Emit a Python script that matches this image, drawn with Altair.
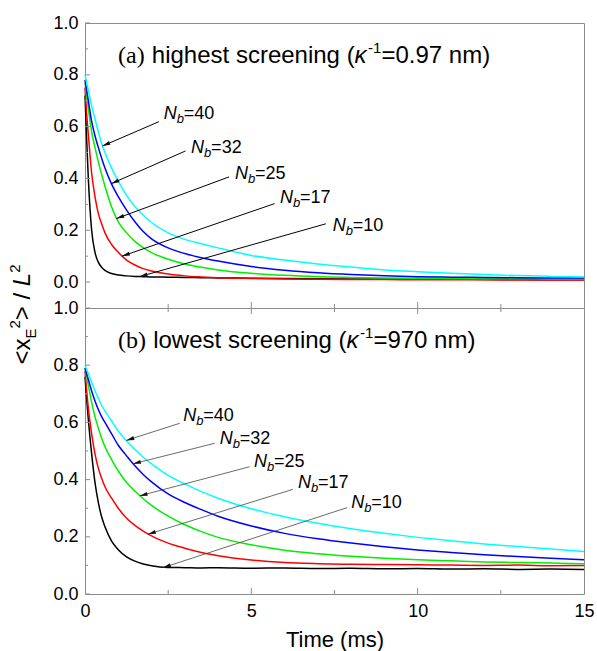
import math
import altair as alt
import pandas as pd

FRAME = "#8c8c8c"
SANS = "Liberation Sans"
SERIF = "Liberation Serif"

W = 499
H_TOP = 285
H_BOT = 286

# ---------------- data ----------------
time_ms = [0, 0.05, 0.1, 0.2, 0.3, 0.4, 0.5, 0.6, 0.8, 1.0, 1.25, 1.5, 1.75, 2.0,
           2.5, 3.0, 3.5, 4, 5, 6, 7, 8, 9, 10, 11, 12, 13, 14, 15]

nb_values = ["10", "17", "25", "32", "40"]
nb_colors = ["#000000", "#ff0000", "#00ee00", "#0000ff", "#00ffff"]

# (a) highest screening
a_nb10 = [0.72, 0.55, 0.40, 0.20, 0.115, 0.077, 0.057, 0.045, 0.033, 0.027, 0.024, 0.022, 0.021, 0.020,
          0.019, 0.018, 0.017, 0.016, 0.015, 0.014, 0.013, 0.012, 0.012, 0.011, 0.011, 0.010, 0.010, 0.009, 0.009]
a_nb17 = [0.75, 0.65, 0.57, 0.42, 0.33, 0.265, 0.225, 0.19, 0.145, 0.115, 0.085, 0.066, 0.052, 0.043,
          0.031, 0.024, 0.020, 0.017, 0.014, 0.012, 0.011, 0.010, 0.010, 0.009, 0.009, 0.009, 0.008, 0.008, 0.008]
a_nb25 = [0.77, 0.72, 0.67, 0.58, 0.52, 0.465, 0.415, 0.37, 0.29, 0.232, 0.19, 0.157, 0.133, 0.114,
          0.088, 0.070, 0.057, 0.047, 0.034, 0.026, 0.021, 0.018, 0.016, 0.015, 0.014, 0.013, 0.013, 0.012, 0.012]
a_nb32 = [0.78, 0.74, 0.70, 0.62, 0.565, 0.52, 0.478, 0.44, 0.378, 0.33, 0.278, 0.233, 0.195, 0.167,
          0.132, 0.110, 0.094, 0.081, 0.060, 0.046, 0.036, 0.029, 0.024, 0.021, 0.019, 0.018, 0.017, 0.016, 0.016]
a_nb40 = [0.80, 0.77, 0.74, 0.68, 0.63, 0.58, 0.535, 0.50, 0.44, 0.39, 0.335, 0.292, 0.258, 0.23,
          0.19, 0.165, 0.148, 0.132, 0.103, 0.085, 0.070, 0.058, 0.047, 0.040, 0.034, 0.029, 0.025, 0.022, 0.020]

# (b) lowest screening
b_nb10 = [0.76, 0.68, 0.61, 0.49, 0.39, 0.32, 0.27, 0.235, 0.185, 0.155, 0.13, 0.115, 0.105, 0.099,
          0.093, 0.092, 0.091, 0.092, 0.090, 0.091, 0.089, 0.090, 0.088, 0.089, 0.087, 0.088, 0.086, 0.087, 0.086]
b_nb17 = [0.78, 0.71, 0.65, 0.56, 0.49, 0.44, 0.405, 0.375, 0.335, 0.30, 0.265, 0.24, 0.22, 0.203,
          0.178, 0.160, 0.145, 0.134, 0.119, 0.110, 0.106, 0.104, 0.103, 0.102, 0.101, 0.100, 0.101, 0.099, 0.100]
b_nb25 = [0.79, 0.76, 0.73, 0.67, 0.62, 0.58, 0.545, 0.515, 0.47, 0.43, 0.39, 0.36, 0.333, 0.31,
          0.272, 0.242, 0.218, 0.198, 0.172, 0.153, 0.141, 0.132, 0.125, 0.120, 0.116, 0.112, 0.110, 0.108, 0.106]
b_nb32 = [0.79, 0.77, 0.75, 0.71, 0.675, 0.645, 0.62, 0.60, 0.56, 0.52, 0.483, 0.448, 0.418, 0.392,
          0.35, 0.32, 0.295, 0.272, 0.238, 0.212, 0.193, 0.178, 0.165, 0.154, 0.145, 0.137, 0.131, 0.125, 0.120]
b_nb40 = [0.80, 0.785, 0.77, 0.74, 0.71, 0.685, 0.66, 0.64, 0.605, 0.57, 0.535, 0.505, 0.478, 0.455,
          0.415, 0.385, 0.358, 0.335, 0.298, 0.27, 0.247, 0.228, 0.212, 0.198, 0.186, 0.175, 0.166, 0.157, 0.149]

# annotation arrows (tail near the label, tip on the curve) and label anchors, order Nb = 10, 17, 25, 32, 40
a_tail_t = [7.24, 5.70, 4.33, 3.02, 2.22]
a_tail_v = [0.225, 0.303, 0.406, 0.506, 0.619]
a_tip_t = [1.64, 1.11, 0.94, 0.79, 0.52]
a_tip_v = [0.021, 0.100, 0.245, 0.380, 0.525]
a_label_t = [7.45, 5.86, 4.51, 3.19, 2.37]
a_label_v = [0.217, 0.325, 0.417, 0.518, 0.649]

b_tail_t = [7.88, 6.25, 4.95, 3.90, 2.85]
b_tail_v = [0.302, 0.366, 0.445, 0.527, 0.597]
b_tip_t = [2.34, 1.89, 1.64, 1.44, 1.24]
b_tip_v = [0.092, 0.209, 0.343, 0.455, 0.537]
b_label_t = [8.00, 6.40, 5.08, 4.05, 2.95]
b_label_v = [0.317, 0.387, 0.462, 0.541, 0.622]

title_a = ["(a)", "highest screening (", "\u03ba", "-1", "=0.97 nm)"]
title_b = ["(b)", "lowest screening (", "\u03ba", "-1", "=970 nm)"]

y_tick_labels = [0.0, 0.2, 0.4, 0.6, 0.8, 1.0]
y_minor = [0.1, 0.3, 0.5, 0.7, 0.9]
x_tick_labels = [0, 5, 10, 15]
x_major_inner = [5, 10]
x_minor = [2.5, 7.5, 12.5]

# ---------------- helpers ----------------
SANS_W = {' ': 278, '(': 333, ')': 333, '-': 333, '.': 278, '/': 278, '<': 584, '=': 584,
          '>': 584, 'E': 667, 'L': 556, 'N': 722, '\u03ba': 520, 'i': 222, 'l': 222,
          'm': 833, 'r': 333, 's': 500, 'c': 500, 't': 278, 'w': 722, 'x': 500}
SERIF_W = {'(': 333, ')': 333, 'a': 444, 'b': 500, ' ': 250}


def text_w(s, size, table=SANS_W):
    return sum(table.get(ch, 556) for ch in s) * size / 1000.0


ONE = pd.DataFrame({"k": [0]})


def txt(s, x, y, font=SANS, size=24, style="normal", angle=0):
    return alt.Chart(ONE).mark_text(
        text=s, font=font, fontSize=size, fontStyle=style, align="left",
        baseline="alphabetic", angle=angle, color="black"
    ).encode(x=alt.value(x), y=alt.value(y))


def title_layers(parts, x0, y0):
    lead, body, kappa, sup, tail = parts
    S, SS = 24, 15
    out = []
    x = x0
    out.append(txt(lead, x, y0, SERIF, S))
    x += text_w(lead, S, SERIF_W) + 0.3 * S
    out.append(txt(body, x, y0, SANS, S))
    x += text_w(body, S)
    out.append(txt(kappa, x, y0, SANS, S, "italic"))
    x += text_w(kappa, S) + 1
    out.append(txt(sup, x, y0 - 10, SANS, SS))
    x += text_w(sup, SS)
    out.append(txt(tail, x, y0, SANS, S))
    return out


def ytitle_layers(center_y, base_x):
    S, SS = 24, 15
    pieces = [("<x", S, 0, "normal"), ("E", SS, 6, "normal"), ("2", SS, -10, "normal"),
              ("> / ", S, 0, "normal"), ("L", S, 0, "italic"), ("2", SS, -10, "normal")]
    total = sum(text_w(p, s) for p, s, _, _ in pieces)
    y = center_y + total / 2
    out = []
    for p, s, shift, style in pieces:
        out.append(txt(p, base_x + shift, y, SANS, s, style, angle=270))
        y -= text_w(p, s)
    return out


HEAD = "M0,0L-0.5,2L0.5,2Z"


def panel(series, height, ydom, arrows, labels, title_parts, bottom, arrow_color, arrow_width):
    xs = alt.Scale(domain=[0, 15], nice=False, zero=False)
    ys = alt.Scale(domain=ydom, nice=False, zero=False)
    yaxis = alt.Axis(values=y_tick_labels, format=".1f", ticks=False, tickSize=0, domain=False,
                     grid=False, labelFont=SANS, labelFontSize=18, labelPadding=7,
                     labelColor="black", title=None)
    if bottom:
        xaxis = alt.Axis(values=x_tick_labels, format="d", ticks=False, tickSize=0, domain=False,
                         grid=False, labelFont=SANS, labelFontSize=18, labelPadding=8,
                         labelFlush=False, labelColor="black", title="Time (ms)",
                         titleFont=SANS, titleFontSize=22, titleFontWeight="normal",
                         titlePadding=9, titleColor="black")
    else:
        xaxis = None

    def X(f="t"):
        return alt.X(f + ":Q", scale=xs, axis=xaxis)

    def Y(f="v"):
        return alt.Y(f + ":Q", scale=ys, axis=yaxis)

    rows = []
    for nb, vals in zip(nb_values, series):
        for t, v in zip(time_ms, vals):
            rows.append({"t": t, "v": v, "nb": nb})
    df = pd.DataFrame(rows)

    lines = alt.Chart(df).mark_line(strokeWidth=1.5, interpolate="monotone").encode(
        x=X(), y=Y(),
        color=alt.Color("nb:N", scale=alt.Scale(domain=nb_values, range=nb_colors), legend=None),
    )

    layers = [lines]

    # inward tick marks on the left edge
    layers.append(alt.Chart(pd.DataFrame({"v": y_tick_labels})).mark_rule(color=FRAME, strokeWidth=1)
                  .encode(y=Y(), x=alt.value(0), x2=alt.value(5)))
    layers.append(alt.Chart(pd.DataFrame({"v": y_minor})).mark_rule(color=FRAME, strokeWidth=1)
                  .encode(y=Y(), x=alt.value(0), x2=alt.value(3)))
    # inward tick marks on the bottom edge
    layers.append(alt.Chart(pd.DataFrame({"t": x_major_inner})).mark_rule(color=FRAME, strokeWidth=1)
                  .encode(x=X(), y=alt.value(height), y2=alt.value(height - 6)))
    layers.append(alt.Chart(pd.DataFrame({"t": x_minor})).mark_rule(color=FRAME, strokeWidth=1)
                  .encode(x=X(), y=alt.value(height), y2=alt.value(height - 4)))
    if bottom:
        # mirrored ticks on the top edge
        layers.append(alt.Chart(pd.DataFrame({"t": x_major_inner})).mark_rule(color=FRAME, strokeWidth=1)
                      .encode(x=X(), y=alt.value(0), y2=alt.value(6)))
        layers.append(alt.Chart(pd.DataFrame({"t": x_minor})).mark_rule(color=FRAME, strokeWidth=1)
                      .encode(x=X(), y=alt.value(0), y2=alt.value(4)))

    tail_t, tail_v, tip_t, tip_v = arrows
    px_t = W / 15.0
    px_v = height / (ydom[1] - ydom[0])
    angs = []
    for t0, v0, t1, v1 in zip(tail_t, tail_v, tip_t, tip_v):
        dx = (t1 - t0) * px_t
        dy = -(v1 - v0) * px_v
        angs.append(math.degrees(math.atan2(dx, -dy)) % 360)
    arr_df = pd.DataFrame({"t": tail_t, "v": tail_v, "t2": tip_t, "v2": tip_v})
    head_df = pd.DataFrame({"t": tip_t, "v": tip_v, "ang": angs})

    layers.append(alt.Chart(arr_df).mark_rule(color=arrow_color, strokeWidth=arrow_width).encode(
        x=X(), y=Y(), x2="t2:Q", y2="v2:Q"))
    layers.append(alt.Chart(head_df).mark_point(shape=HEAD, filled=True, size=64, opacity=1,
                                                 color="#111111", strokeWidth=0).encode(
        x=X(), y=Y(), angle=alt.Angle("ang:Q", scale=None)))

    lab_t, lab_v = labels
    lab_df = pd.DataFrame({"t": lab_t, "v": lab_v, "eq": ["=" + n for n in nb_values]})
    layers.append(alt.Chart(lab_df).mark_text(text="N", font=SANS, fontSize=18, fontStyle="italic",
                                              align="left", baseline="middle", color="black")
                  .encode(x=X(), y=Y()))
    layers.append(alt.Chart(lab_df).mark_text(text="b", font=SANS, fontSize=13, fontStyle="italic",
                                              align="left", baseline="middle", dx=13, dy=5, color="black")
                  .encode(x=X(), y=Y()))
    layers.append(alt.Chart(lab_df).mark_text(font=SANS, fontSize=18, align="left", baseline="middle",
                                              dx=20, color="black")
                  .encode(x=X(), y=Y(), text="eq:N"))

    layers += title_layers(title_parts, 33, 40)
    if not bottom:
        layers += ytitle_layers(291.5, -55)

    return alt.layer(*layers).properties(width=W, height=height)


top = panel([a_nb10, a_nb17, a_nb25, a_nb32, a_nb40], H_TOP, [-0.1, 1.0],
            (a_tail_t, a_tail_v, a_tip_t, a_tip_v), (a_label_t, a_label_v), title_a,
            False, "#000000", 1.0)
bot = panel([b_nb10, b_nb17, b_nb25, b_nb32, b_nb40], H_BOT, [0.0, 1.0],
            (b_tail_t, b_tail_v, b_tip_t, b_tip_v), (b_label_t, b_label_v), title_b,
            True, "#444444", 0.8)

chart = alt.vconcat(top, bot, spacing=0, bounds="flush").properties(
    padding={"left": 7, "top": 13, "right": 0, "bottom": 0}
).configure_view(stroke=FRAME, strokeWidth=1)

chart.save("out.html", embed_options={"renderer": "svg", "actions": False})
